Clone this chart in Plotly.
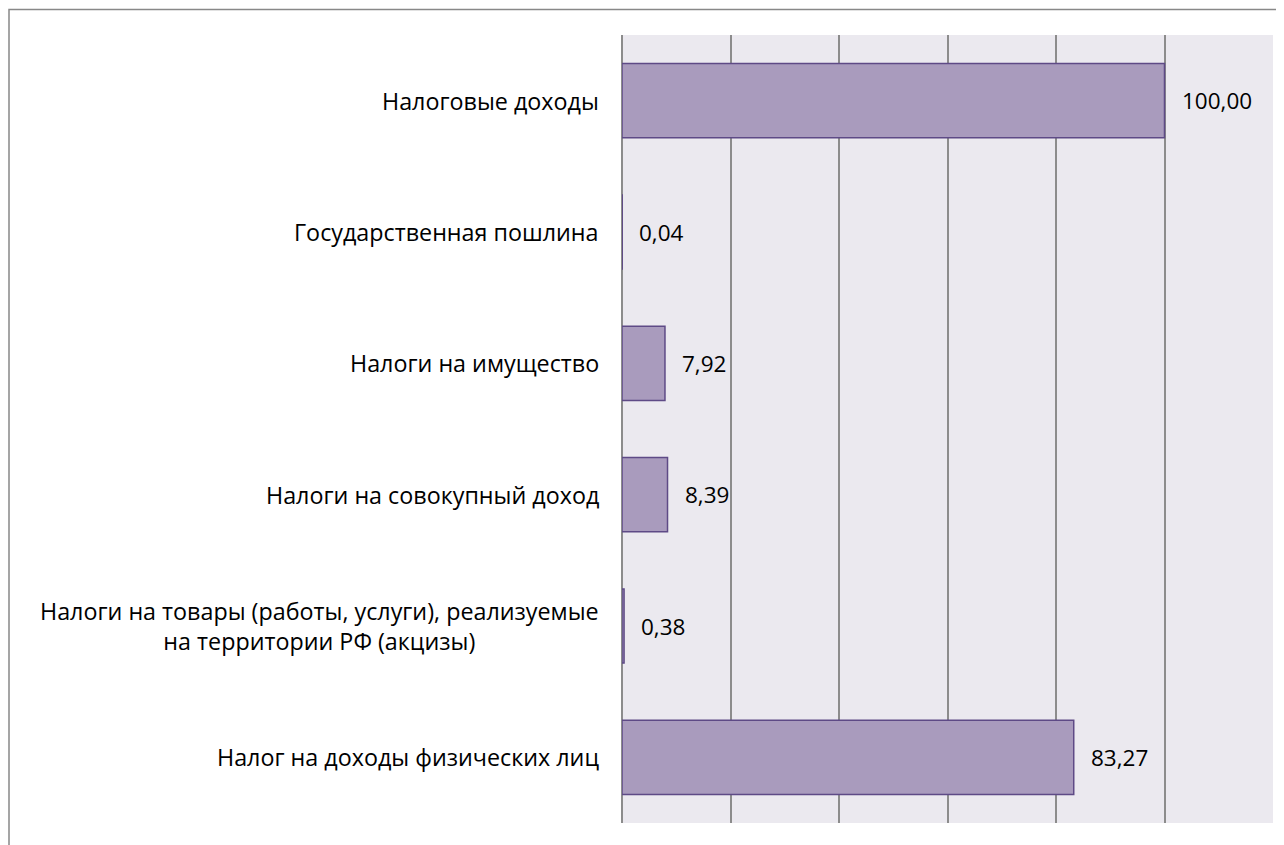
import plotly.graph_objects as go

categories = [
    "Налог на доходы физических лиц",
    "Налоги на товары (работы, услуги), реализуемые<br>на территории РФ (акцизы)",
    "Налоги на совокупный доход",
    "Налоги на имущество",
    "Государственная пошлина",
    "Налоговые доходы",
]
values = [83.27, 0.38, 8.39, 7.92, 0.04, 100.00]
labels = ["83,27", "0,38", "8,39", "7,92", "0,04", "100,00"]

W, H = 1284, 845
L, R, T, B = 614, 19, 27, 30
pw, ph = W - L - R, H - T - B
FONT = "Open Sans"

fig = go.Figure()
fig.add_trace(go.Bar(
    y=categories, x=values, orientation="h",
    marker=dict(color="#A99BBD", line=dict(color="#5E4A86", width=1.5)),
    width=0.565, hoverinfo="skip",
))

for c, v, t in zip(categories, values, labels):
    fig.add_annotation(x=v, y=c, text=t, showarrow=False, xanchor="left",
                       xshift=15, font=dict(size=22.5, color="#000000", family=FONT))
    fig.add_annotation(x=0, y=c, text=c, showarrow=False, xanchor="right",
                       align="center", xshift=-21,
                       font=dict(size=23.3, color="#000000", family=FONT))

fig.add_shape(type="rect", xref="paper", yref="paper",
              x0=(1 - L) / pw, x1=(W + 20 - L) / pw,
              y0=-(B + 20) / ph, y1=1 + (T - 1.5) / ph,
              line=dict(color="#888888", width=1.5), fillcolor="rgba(0,0,0,0)",
              layer="below")

fig.update_layout(
    width=W, height=H,
    margin=dict(l=L, r=R, t=T, b=B, pad=0),
    paper_bgcolor="#FFFFFF", plot_bgcolor="#EBE9EF",
    showlegend=False,
    font=dict(family=FONT, size=22, color="#000000"),
    xaxis=dict(range=[0, 120], dtick=20, showticklabels=False,
               showgrid=True, gridcolor="#8C8C8C", gridwidth=1.5,
               zeroline=True, zerolinecolor="#8C8C8C", zerolinewidth=1.5,
               showline=False, fixedrange=True),
    yaxis=dict(showgrid=False, ticks="", showticklabels=False, fixedrange=True),
)

fig.write_html("out.html")
